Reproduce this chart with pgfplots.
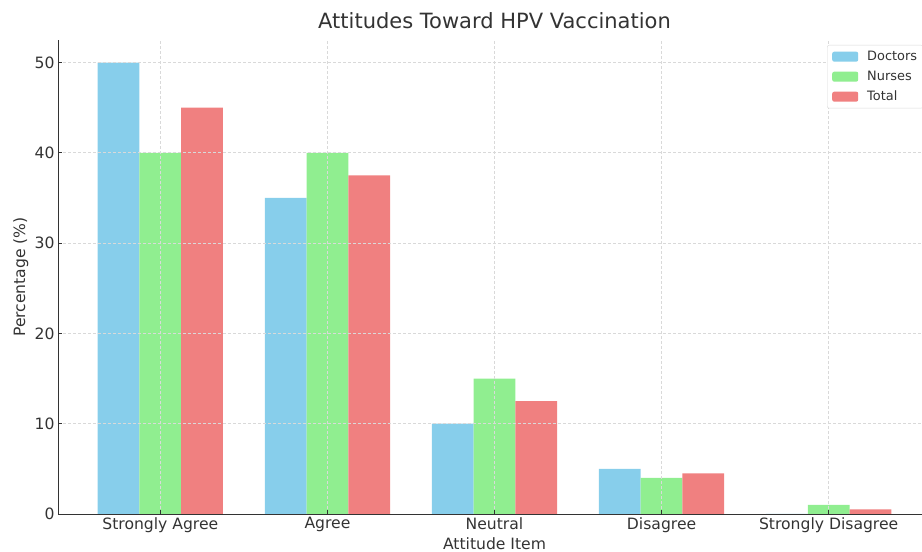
\documentclass[border=0pt]{standalone}
\usepackage{pgfplots}
\pgfplotsset{compat=1.18}
\usepackage{fontspec}
\setmainfont{DejaVu Sans}
\definecolor{skyb}{HTML}{87CEEB}
\definecolor{lgreen}{HTML}{90EE90}
\definecolor{lcoral}{HTML}{F08080}
\definecolor{txt}{HTML}{333333}
\begin{document}
\begin{tikzpicture}
\useasboundingbox (0,0) rectangle (922pt,552pt);
\clip (0,0) rectangle (922pt,552pt);
\begin{axis}[
  at={(58pt,38pt)}, anchor=south west,
  scale only axis, width=873pt, height=474pt,
  xmin=-0.6125, xmax=4.6125, ymin=0, ymax=52.5,
  axis x line*=bottom, axis y line*=left,
  axis line style={-, draw=txt, line width=0.9pt},
  axis on top,
  xtick={0,1,2,3,4},
  xticklabels={Strongly Agree,Agree,Neutral,Disagree,Strongly Disagree},
  ytick={0,10,20,30,40,50},
  tick align=inside, major tick length=4pt,
  tick style={draw=txt, line width=0.8pt},
  ticklabel style={font=\fontsize{15.6}{18}\selectfont, text=txt},
  /pgf/number format/assume math mode=true,
  grid=major,
  major grid style={draw=gray!30, line width=0.8pt, dash pattern=on 3pt off 2pt},
  every axis title/.style={at={(axis description cs:0.5,1)}, anchor=base, yshift=11pt, font=\fontsize{21}{25}\selectfont, text=txt},
  every axis x label/.style={at={(axis description cs:0.5,0)}, anchor=base, yshift=-35.5pt, inner sep=0pt, text depth=0pt, font=\fontsize{15.6}{18}\selectfont, text=txt},
  every axis y label/.style={at={(axis description cs:-0.0378,0.5)}, rotate=90, anchor=base, font=\fontsize{15.6}{18}\selectfont, text=txt},
  title={Attitudes Toward HPV Vaccination},
  xlabel={Attitude Item},
  ylabel={Percentage (\%)},
  legend image code/.code={\fill[#1] (0pt,-5pt) rectangle (26pt,5pt);},
  legend cell align=left,
  legend style={at={(axis description cs:0.8809,0.9895)}, anchor=north west,
    draw=gray!30, rounded corners=2pt, fill=white,
    font=\fontsize{12.9}{15}\selectfont, text=txt,
    inner xsep=5pt, inner ysep=1.5pt, column sep=8pt,
    nodes={inner xsep=1pt, inner ysep=3.5pt, text height=10pt, text depth=3pt}},
]
\addplot[ybar, bar width=0.25, bar shift=-0.25, fill=skyb, draw=none]
  coordinates {(0,50) (1,35) (2,10) (3,5) (4,0)};
\addplot[ybar, bar width=0.25, bar shift=0, fill=lgreen, draw=none]
  coordinates {(0,40) (1,40) (2,15) (3,4) (4,1)};
\addplot[ybar, bar width=0.25, bar shift=0.25, fill=lcoral, draw=none]
  coordinates {(0,45) (1,37.5) (2,12.5) (3,4.5) (4,0.5)};
\legend{Doctors,Nurses,Total}
\end{axis}
\end{tikzpicture}
\end{document}
